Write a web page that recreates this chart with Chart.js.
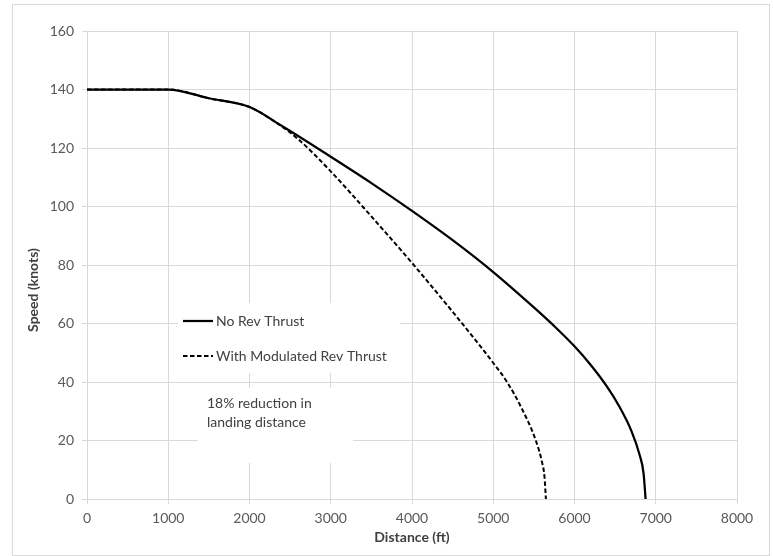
<!DOCTYPE html>
<html>
<head>
<meta charset="utf-8">
<script src="https://cdn.jsdelivr.net/npm/chart.js@4.4.1/dist/chart.umd.min.js"></script>
<style>
  body { margin: 0; background: #fff; }
  canvas { display: block; }
</style>
</head>
<body>
<canvas id="landing_speed" width="773" height="556"></canvas>
<script>
// speed vs. distance along the runway
const distNoRev = [0, 1000, 1500, 2000, 2400, 3000, 3500, 4000, 4500, 5000, 5500, 5800, 6000, 6200, 6400, 6550, 6700, 6800, 6850, 6875];
const speedNoRev = [140, 140, 137, 134, 127.5, 117, 108, 98.5, 88.5, 77.6, 65.5, 57.8, 52.2, 45.8, 38.4, 31.7, 23.3, 15.2, 8.8, 0];

const distModRev = [0, 1000, 1500, 2000, 2300, 2600, 3000, 3500, 4000, 4500, 4850, 5000, 5170, 5350, 5520, 5600, 5630, 5648];
const speedModRev = [140, 140, 137, 134, 129.2, 123, 112, 96.6, 80.7, 64, 51.9, 46.5, 40, 31, 20.3, 12.6, 7.8, 0];

const seriesNames = ['No Rev Thrust', 'With Modulated Rev Thrust'];
const noteLines = ['18% reduction in', 'landing distance'];
const xTitle = 'Distance (ft)';
const yTitle = 'Speed (knots)';

const toPoints = (xs, ys) => xs.map((x, i) => ({ x: x, y: ys[i] }));

const gridGray = '#d9d9d9';
const textGray = '#595959';
const font = 'Lato, "Open Sans", sans-serif';

// white page, outer frame, legend box, text note and axis titles
const extras = {
    id: 'extras',
    beforeDraw(chart) {
        const ctx = chart.ctx;
        ctx.save();
        ctx.fillStyle = '#fff';
        ctx.fillRect(0, 0, chart.width, chart.height);
        ctx.strokeStyle = gridGray;
        ctx.lineWidth = 1;
        ctx.strokeRect(12.5, 4.5, 757, 551);
        ctx.restore();
    },
    beforeDatasetsDraw(chart) {
        const ctx = chart.ctx;
        ctx.save();

        // legend
        ctx.fillStyle = '#fff';
        ctx.fillRect(178, 303, 222, 70);
        const rows = [321, 356];
        chart.data.datasets.forEach((ds, i) => {
            const y = rows[i];
            ctx.strokeStyle = ds.borderColor;
            ctx.lineWidth = ds.borderWidth;
            ctx.setLineDash(ds.borderDash || []);
            ctx.beginPath();
            ctx.moveTo(183, y);
            ctx.lineTo(213, y);
            ctx.stroke();
            ctx.setLineDash([]);
            ctx.fillStyle = '#404040';
            ctx.font = '14px ' + font;
            ctx.textBaseline = 'middle';
            ctx.textAlign = 'left';
            ctx.fillText(ds.label, 216, y);
        });

        // note
        ctx.fillStyle = '#fff';
        ctx.fillRect(198, 388, 155, 75);
        ctx.fillStyle = '#404040';
        ctx.font = '14px ' + font;
        noteLines.forEach((t, i) => ctx.fillText(t, 207, 403 + i * 19.5));

        // axis titles
        ctx.fillStyle = '#404040';
        ctx.font = 'bold 14px ' + font;
        ctx.textAlign = 'center';
        ctx.fillText(xTitle, 412, 537);
        ctx.translate(33, 290);
        ctx.rotate(-Math.PI / 2);
        ctx.fillText(yTitle, 0, 0);
        ctx.restore();
    }
};

new Chart(document.getElementById('landing_speed'), {
    type: 'line',
    data: {
        datasets: [{
            label: seriesNames[0],
            data: toPoints(distNoRev, speedNoRev),
            borderColor: '#000',
            borderWidth: 2.25,
            pointRadius: 0,
            cubicInterpolationMode: 'monotone'
        }, {
            label: seriesNames[1],
            data: toPoints(distModRev, speedModRev),
            borderColor: '#000',
            borderWidth: 2,
            borderDash: [4.5, 2.5],
            pointRadius: 0,
            cubicInterpolationMode: 'monotone'
        }]
    },
    options: {
        responsive: false,
        animation: false,
        layout: { padding: { top: 31, right: 36, left: 0, bottom: 0 } },
        plugins: {
            legend: { display: false },
            tooltip: { enabled: false }
        },
        scales: {
            x: {
                type: 'linear',
                min: 0,
                max: 8000,
                afterFit(s) { s.height = 57; },
                grid: { color: gridGray, tickLength: 5 },
                border: { color: gridGray },
                ticks: {
                    stepSize: 1000,
                    padding: 6,
                    color: textGray,
                    maxRotation: 0,
                    format: { useGrouping: false },
                    font: { family: font, size: 14 }
                }
            },
            y: {
                min: 0,
                max: 160,
                afterFit(s) { s.width = 87; },
                grid: { color: gridGray, tickLength: 5 },
                border: { color: gridGray },
                ticks: {
                    stepSize: 20,
                    padding: 8,
                    color: textGray,
                    font: { family: font, size: 14 }
                }
            }
        }
    },
    plugins: [extras]
});
</script>
</body>
</html>
